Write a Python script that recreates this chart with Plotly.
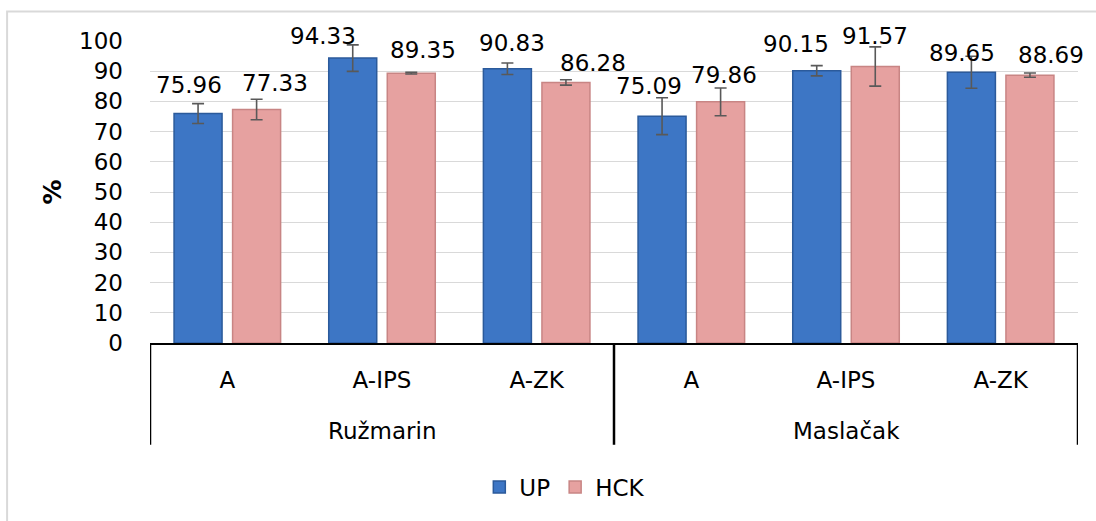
import plotly.graph_objects as go

groups = ["Ružmarin", "Ružmarin", "Ružmarin", "Maslačak", "Maslačak", "Maslačak"]
treatments = ["A", "A-IPS", "A-ZK", "A", "A-IPS", "A-ZK"]
up_values = [75.96, 94.33, 90.83, 75.09, 90.15, 89.65]
up_errors = [3.3, 4.4, 1.9, 6.1, 1.7, 5.3]
hck_values = [77.33, 89.35, 86.28, 79.86, 91.57, 88.69]
hck_errors = [3.4, 0.3, 0.9, 4.6, 6.5, 0.7]
y_ticks = [0, 10, 20, 30, 40, 50, 60, 70, 80, 90, 100]

# label nudges (pixels), as placed in the original chart
up_label_dx = [-9, -30, 5, -13, -21, -9]
hck_label_dx = [18, 12, 27, 3, 0, 21]
up_label_dy = [14, 7.5, 10.5, 15, 12, 4]
hck_label_dy = [11.5, 8.5, 4.5, 12, 15.5, 5]

FONT = "DejaVu Sans"
BARGAP = 0.243
BARGROUPGAP = 0.18
positions = list(range(len(treatments)))

fig = go.Figure()
fig.add_trace(go.Bar(
    x=positions, y=up_values, name="UP",
    marker=dict(color="#3D76C5", line=dict(color="#2B5A9B", width=1.5)),
    error_y=dict(type="data", array=up_errors, color="#595959", thickness=1.6, width=6),
))
fig.add_trace(go.Bar(
    x=positions, y=hck_values, name="HCK",
    marker=dict(color="#E6A1A0", line=dict(color="#C88584", width=1.5)),
    error_y=dict(type="data", array=hck_errors, color="#595959", thickness=1.6, width=6),
))

# data labels above bars
offset = (1 - BARGAP) / 4
for vals, sign, dxs, dys in ((up_values, -1, up_label_dx, up_label_dy),
                             (hck_values, 1, hck_label_dx, hck_label_dy)):
    for i, v, dx, dy in zip(positions, vals, dxs, dys):
        fig.add_annotation(x=i + sign * offset, y=v, xref="x", yref="y",
                           text=f"{v:.2f}", showarrow=False, yanchor="bottom",
                           xshift=dx, yshift=dy,
                           font=dict(family=FONT, size=23, color="black"))

# group labels and dividers
group_names = []
for g in groups:
    if g not in group_names:
        group_names.append(g)
for g in group_names:
    idx = [i for i, gg in enumerate(groups) if gg == g]
    fig.add_annotation(x=sum(idx) / len(idx), y=-0.29, xref="x", yref="paper",
                       text=g, showarrow=False, yanchor="middle",
                       font=dict(family=FONT, size=23, color="black"))
boundaries = [-0.5] + [i + 0.5 for i in range(len(groups) - 1) if groups[i] != groups[i + 1]] + [len(groups) - 0.5]
for b in boundaries:
    fig.add_shape(type="line", xref="x", yref="paper", x0=b, x1=b, y0=0, y1=-0.337,
                  line=dict(color="black", width=2.5))

# outer chart border
fig.add_shape(type="rect", xref="paper", yref="paper",
              x0=-0.154, x1=1.03, y0=-0.6, y1=1.098,
              line=dict(color="#d9d9d9", width=2), layer="below")

fig.update_layout(
    width=1096, height=521,
    margin=dict(l=150, r=18, t=41, b=174),
    paper_bgcolor="white", plot_bgcolor="white",
    barmode="group", bargap=BARGAP, bargroupgap=BARGROUPGAP,
    font=dict(family=FONT, size=23, color="black"),
    showlegend=True,
    legend=dict(orientation="h", x=0.447, xanchor="center", y=-0.477, yanchor="middle",
                font=dict(family=FONT, size=23, color="black"),
                itemwidth=30, tracegroupgap=0),
)
fig.update_yaxes(
    range=[0, 100], tickvals=y_ticks, showgrid=True, gridcolor="#d9d9d9", gridwidth=1,
    zeroline=False, showline=False, ticks="", ticklabelstandoff=26, automargin=False,
    tickfont=dict(family=FONT, size=23, color="black"),
    title=dict(text="<b>%</b>", font=dict(family=FONT, size=25, color="black"), standoff=10),
)
fig.update_xaxes(
    range=[-0.5, len(treatments) - 0.5], tickvals=positions, ticktext=treatments,
    showline=True, linecolor="black", linewidth=2, showgrid=False, zeroline=False,
    ticks="", ticklabelstandoff=15, automargin=False,
    tickfont=dict(family=FONT, size=23, color="black"),
)

fig.write_html("out.html", config={"displayModeBar": False},
               post_script="document.body.style.margin='0';")
